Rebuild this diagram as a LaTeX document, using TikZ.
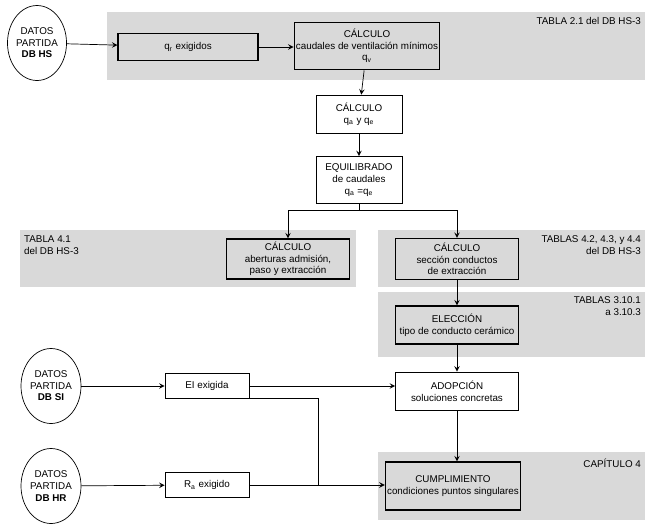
\documentclass[tikz,border=0pt]{standalone}
\usepackage{fontspec}
\setmainfont{Liberation Sans}
\usetikzlibrary{shapes,positioning,arrows}
\definecolor{bandgray}{rgb}{0.85,0.85,0.85}
\begin{document}
\begin{tikzpicture}[x=0.02cm,y=-0.02cm,
    font=\fontsize{5.6}{6.6}\selectfont, >=stealth,
    band/.style   = {fill=bandgray, draw=none},
    block/.style  = {draw, rectangle, fill=white, align=center, inner sep=1pt},
    gblock/.style = {draw, rectangle, fill=bandgray, align=center, inner sep=1pt, line width=0.6pt},
    datos/.style  = {draw, ellipse, fill=white, align=center, minimum width=1.1cm, minimum height=1.5cm, inner sep=0pt},
    note/.style   = {align=right, anchor=north east, inner sep=1pt}]

  \useasboundingbox (0,0) rectangle (650,531);
  % bandas grises
  \fill[band] (107,12) rectangle (645,80);
  \fill[band] (20,230) rectangle (356,287);
  \fill[band] (378,230) rectangle (645,287);
  \fill[band] (378,292) rectangle (645,357);
  \fill[band] (378,452) rectangle (645,520);
  \node[note] (t1) at (643,15) {TABLA 2.1 del DB HS-3};
  \node[align=left, anchor=north west, inner sep=1pt] (t2) at (22,234) {TABLA 4.1\\del DB HS-3};
  \node[note] (t3) at (643,234) {TABLAS 4.2, 4.3, y 4.4\\del DB HS-3};
  \node[note] (t4) at (643,295) {TABLAS 3.10.1\\a 3.10.3};
  \node[note] (t5) at (643,457) {CAPÍTULO 4};

  \draw (37,43) node[datos] (hs) {DATOS\\PARTIDA\\\textbf{DB HS}};
  \draw (188,47) node[gblock, minimum width=2.8cm, minimum height=0.55cm] (qr) {q\textsubscript{r} exigidos};
  \draw (367,46) node[gblock, minimum width=2.8cm, minimum height=0.95cm] (calc1) {CÁLCULO\\caudales de ventilación mínimos\\q\textsubscript{v}};
  \draw (359,114) node[block, minimum width=1.72cm, minimum height=0.76cm] (calc2) {CÁLCULO\\q\textsubscript{a} y q\textsubscript{e}};
  \draw (359,180) node[block, minimum width=1.72cm, minimum height=0.94cm] (equil) {EQUILIBRADO\\de caudales\\q\textsubscript{a} =q\textsubscript{e}};
  \draw (288,259) node[gblock, minimum width=2.46cm, minimum height=0.8cm] (aber) {CÁLCULO\\aberturas admisión,\\paso y extracción};
  \draw (457,259) node[gblock, minimum width=2.46cm, minimum height=0.82cm] (secc) {CÁLCULO\\sección conductos\\de extracción};
  \draw (457,325) node[gblock, minimum width=2.46cm, minimum height=0.76cm] (elec) {ELECCIÓN\\tipo de conducto cerámico};
  \draw (457,391) node[block, minimum width=2.46cm, minimum height=0.76cm] (adop) {ADOPCIÓN\\soluciones concretas};
  \draw (453,486) node[gblock, minimum width=2.6cm, minimum height=0.96cm] (cump) {CUMPLIMIENTO\\condiciones puntos singulares};
  \draw (51,386) node[datos, minimum width=1.2cm] (si) {DATOS\\PARTIDA\\\textbf{DB SI}};
  \draw (51,486) node[datos, minimum width=1.2cm] (hr) {DATOS\\PARTIDA\\\textbf{DB HR}};
  \draw (207,386) node[block, minimum width=1.68cm, minimum height=0.5cm] (ei) {EI exigida};
  \draw (207,485) node[block, minimum width=1.68cm, minimum height=0.5cm] (ra) {R\textsubscript{a} exigido};
  \coordinate (split) at (359,210);
  \coordinate (join) at (318,485);

  \draw [->] (hs) -- (qr);
  \draw [->] (qr) -- (calc1.west |- qr);
  \draw [->] (calc1) -- (calc2);
  \draw [->] (calc2) -- (equil);
  \draw (equil) -- (split);
  \draw [->] (split) -| (aber);
  \draw [->] (split) -| (secc);
  \draw [->] (secc) -- (elec);
  \draw [->] (elec) -- (adop);
  \draw [->] (adop) -- (adop |- cump.north);
  \draw [->] (si) -- (ei);
  \draw [->] (hr) -- (ra);
  \draw [->] (ei) -- (adop.west |- ei);
  \draw [->] (ra) -- (cump.west |- ra);
  \draw (ei.south east) ++(0,-1) -| (join);
\end{tikzpicture}
\end{document}
